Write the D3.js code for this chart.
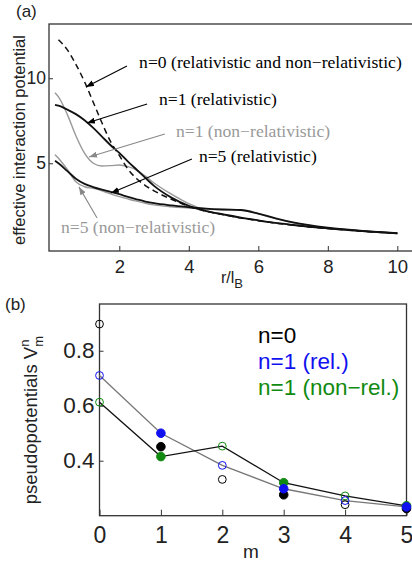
<!DOCTYPE html>
<html>
<head>
<meta charset="utf-8">
<script src="https://d3js.org/d3.v7.min.js"></script>
<style>
    body { margin: 0; background: #fff; }
    svg text { font-family: "Liberation Sans", Arial, sans-serif; }
    svg text.serif { font-family: "Liberation Serif", "Times New Roman", serif; }
</style>
</head>
<body>
<script>
// ---- panel (a): effective interaction potential vs r/l_B ----
var rGrid = [0.15, 0.25, 0.5, 0.75, 1, 1.25, 1.5, 1.75, 2, 2.25, 2.5, 2.75, 3, 3.5, 4, 4.5, 5, 5.5, 6, 6.5, 7, 8, 9, 10];
var n0All = [null, 12.26, 11.68, 10.82, 9.79, 8.59, 7.38, 6.27, 5.46, 4.65, 4.09, 3.69, 3.38, 2.88, 2.47, 2.17, 1.97, 1.78, 1.62, 1.48, 1.36, 1.16, 1.0, 0.88];
var n1Rel = [8.44, 8.39, 8.16, 7.89, 7.53, 7.08, 6.57, 6.06, 5.61, 5.10, 4.62, 4.14, 3.67, 2.98, 2.49, 2.19, 1.99, 1.80, 1.64, 1.49, 1.37, 1.17, 1.01, 0.88];
var n1NonRel = [9.15, 8.90, 7.89, 6.62, 5.59, 5.0, 4.84, 4.86, 4.9, 4.8, 4.6, 4.24, 3.84, 3.18, 2.62, 2.22, 1.97, 1.79, 1.63, 1.48, 1.36, 1.16, 1.0, 0.87];
var n5Rel = [5.15, 5.0, 4.55, 4.09, 3.79, 3.60, 3.45, 3.32, 3.18, 3.02, 2.88, 2.75, 2.65, 2.52, 2.42, 2.33, 2.28, 2.25, 2.04, 1.76, 1.52, 1.21, 1.02, 0.89];
var n5NonRel = [5.51, 5.3, 4.65, 3.91, 3.62, 3.52, 3.38, 3.20, 3.04, 2.90, 2.77, 2.65, 2.55, 2.44, 2.37, 2.30, 2.26, 2.23, 2.02, 1.74, 1.50, 1.19, 1.0, 0.87];
var xTicksA = [2, 4, 6, 8, 10];
var yTicksA = [5, 10];

// annotation labels: text, text anchor point, arrow start, arrow tip (data units)
var notesA = [
    {text: "n=0 (relativistic and non\u2212relativistic)", tx: 2.57, ty: 10.6, x1: 2.22, y1: 10.72, x2: 1.04, y2: 9.49, gray: false},
    {text: "n=1 (relativistic)", tx: 3.14, ty: 8.43, x1: 2.8, y1: 8.49, x2: 1.07, y2: 7.37, gray: false},
    {text: "n=1 (non\u2212relativistic)", tx: 3.63, ty: 6.55, x1: 3.31, y1: 6.72, x2: 1.13, y2: 5.37, gray: true},
    {text: "n=5 (relativistic)", tx: 4.29, ty: 5.08, x1: 4.09, y1: 5.25, x2: 1.76, y2: 3.25, gray: false},
    {text: "n=5 (non\u2212relativistic)", tx: 0.32, ty: 0.9, x1: 1.36, y1: 1.78, x2: 0.84, y2: 3.61, gray: true}
];

// ---- panel (b): pseudopotentials ----
var mVals = [0, 1, 2, 3, 4, 5];
var vN0 = [0.897, 0.451, 0.332, 0.276, 0.240, 0.226];
var vN1Rel = [0.71, 0.50, 0.383, 0.298, 0.255, 0.232];
var vN1NonRel = [0.613, 0.415, 0.453, 0.32, 0.272, 0.236];
var yTicksB = [0.4, 0.6, 0.8];
var legendB = ["n=0", "n=1 (rel.)", "n=1 (non\u2212rel.)"];

var blue = "#1010f0", green = "#108a10";

var width = 412, height = 565;
var svg = d3.select("body").append("svg")
    .attr("width", width)
    .attr("height", height);

var defs = svg.append("defs");
["#000", "#888"].forEach(function(c, i) {
    defs.append("marker")
        .attr("id", "arr" + i)
        .attr("markerUnits", "userSpaceOnUse")
        .attr("markerWidth", 9).attr("markerHeight", 7)
        .attr("refX", 8).attr("refY", 3)
        .attr("orient", "auto")
        .append("path")
        .attr("d", "M0,0 L8,3 L0,6 Z")
        .attr("fill", c);
});

// ===== panel (a) =====
var xA = d3.scaleLinear().domain([0, 10.5]).range([49.8, 414.7]);
var yA = d3.scaleLinear().domain([-0.16, 13.19]).range([251, 24]);

var gA = svg.append("g");

gA.append("rect")
    .attr("x", xA(0) - 0.8).attr("y", yA(13.19))
    .attr("width", xA(10.5) - xA(0) + 5).attr("height", yA(-0.16) - yA(13.19))
    .attr("fill", "none").attr("stroke", "#333").attr("stroke-width", 1.3);

gA.append("g")
    .attr("transform", "translate(0," + yA(-0.16) + ")")
    .call(d3.axisBottom(xA).tickValues(xTicksA).tickSize(-5).tickPadding(9).tickFormat(d3.format("d")))
    .call(function(g) { g.select(".domain").remove(); })
    .call(function(g) {
        g.selectAll("line").attr("stroke", "#333");
        g.selectAll("text").attr("font-size", 18.5).attr("fill", "#222");
    });

gA.append("g")
    .attr("transform", "translate(" + (xA(0) - 0.8) + ",0)")
    .call(d3.axisLeft(yA).tickValues(yTicksA).tickSize(-4).tickPadding(3).tickFormat(d3.format("d")))
    .call(function(g) { g.select(".domain").remove(); })
    .call(function(g) {
        g.selectAll("line").attr("stroke", "#333");
        g.selectAll("text").attr("font-size", 17.5).attr("fill", "#222");
    });

var lineA = d3.line()
    .defined(function(d) { return d[1] !== null; })
    .x(function(d) { return xA(d[0]); })
    .y(function(d) { return yA(d[1]); })
    .curve(d3.curveMonotoneX);

function pairs(vals) { return rGrid.map(function(r, i) { return [r, vals[i]]; }); }

var curvesA = [
    {v: n1NonRel, color: "#999", w: 1.4, dash: null},
    {v: n5NonRel, color: "#999", w: 1.4, dash: null},
    {v: n0All, color: "#111", w: 1.5, dash: "6,4"},
    {v: n1Rel, color: "#111", w: 1.8, dash: null},
    {v: n5Rel, color: "#111", w: 1.8, dash: null}
];

gA.selectAll("path.curve")
    .data(curvesA)
    .enter()
    .append("path")
    .attr("class", "curve")
    .attr("fill", "none")
    .attr("stroke", function(d) { return d.color; })
    .attr("stroke-width", function(d) { return d.w; })
    .attr("stroke-dasharray", function(d) { return d.dash; })
    .attr("d", function(d) { return lineA(pairs(d.v)); });

gA.selectAll("line.note")
    .data(notesA)
    .enter()
    .append("line")
    .attr("class", "note")
    .attr("x1", function(d) { return xA(d.x1); })
    .attr("y1", function(d) { return yA(d.y1); })
    .attr("x2", function(d) { return xA(d.x2); })
    .attr("y2", function(d) { return yA(d.y2); })
    .attr("stroke", function(d) { return d.gray ? "#888" : "#000"; })
    .attr("stroke-width", 1.1)
    .attr("marker-end", function(d) { return d.gray ? "url(#arr1)" : "url(#arr0)"; });

gA.selectAll("text.note")
    .data(notesA)
    .enter()
    .append("text")
    .attr("class", "note serif")
    .attr("x", function(d) { return xA(d.tx); })
    .attr("y", function(d) { return yA(d.ty); })
    .attr("font-size", 17.6)
    .attr("fill", function(d) { return d.gray ? "#999" : "#000"; })
    .text(function(d) { return d.text; });

svg.append("text")
    .attr("transform", "translate(24.5,140) rotate(-90)")
    .attr("text-anchor", "middle")
    .attr("font-size", 16.6)
    .attr("fill", "#222")
    .text("effective interaction potential");

var xLabA = svg.append("text")
    .attr("x", 232).attr("y", 283)
    .attr("text-anchor", "middle")
    .attr("font-size", 16)
    .attr("fill", "#222");
xLabA.append("tspan").text("r/l");
xLabA.append("tspan").attr("dy", 5).attr("font-size", 13).text("B");

svg.append("text").attr("x", 16).attr("y", 17).attr("font-size", 17).attr("fill", "#222").text("(a)");
svg.append("text").attr("x", 5).attr("y", 310).attr("font-size", 17).attr("fill", "#222").text("(b)");

// ===== panel (b) =====
var xB = d3.scaleLinear().domain([0, 5]).range([99.5, 406.5]);
var yB = d3.scaleLinear().domain([0.2, 0.97]).range([515.7, 304]);

var gB = svg.append("g");

gB.append("rect")
    .attr("x", xB(0)).attr("y", yB(0.97))
    .attr("width", xB(5) - xB(0)).attr("height", yB(0.2) - yB(0.97))
    .attr("fill", "none").attr("stroke", "#333").attr("stroke-width", 1.3);

gB.append("g")
    .attr("transform", "translate(0," + yB(0.2) + ")")
    .call(d3.axisBottom(xB).tickValues(mVals).tickSize(-6).tickPadding(11).tickFormat(d3.format("d")))
    .call(function(g) { g.select(".domain").remove(); })
    .call(function(g) {
        g.selectAll("line").attr("stroke", "#333");
        g.selectAll("text").attr("font-size", 23).attr("fill", "#222");
    });

gB.append("g")
    .attr("transform", "translate(" + xB(0) + ",0)")
    .call(d3.axisLeft(yB).tickValues(yTicksB).tickSize(-4).tickPadding(5).tickFormat(d3.format(".1f")))
    .call(function(g) { g.select(".domain").remove(); })
    .call(function(g) {
        g.selectAll("line").attr("stroke", "#333");
        g.selectAll("text").attr("font-size", 22.5).attr("fill", "#222");
    });

var lineB = d3.line()
    .x(function(d, i) { return xB(mVals[i]); })
    .y(function(d) { return yB(d); });

gB.append("path").attr("fill", "none").attr("stroke", "#777").attr("stroke-width", 1.3).attr("d", lineB(vN1Rel));
gB.append("path").attr("fill", "none").attr("stroke", "#111").attr("stroke-width", 1.3).attr("d", lineB(vN1NonRel));

// odd m: filled dots, even m: open circles
var seriesB = [
    {v: vN0, color: "#000"},
    {v: vN1NonRel, color: green},
    {v: vN1Rel, color: blue}
];
seriesB.forEach(function(s) {
    gB.selectAll(null)
        .data(s.v)
        .enter()
        .append("circle")
        .attr("cx", function(d, i) { return xB(mVals[i]); })
        .attr("cy", function(d) { return yB(d); })
        .attr("r", function(d, i) { return mVals[i] % 2 ? 4.3 : 3.9; })
        .attr("fill", function(d, i) { return mVals[i] % 2 ? s.color : "none"; })
        .attr("stroke", s.color)
        .attr("stroke-width", 1);
});

gB.selectAll("text.leg")
    .data(legendB)
    .enter()
    .append("text")
    .attr("class", "leg")
    .attr("x", 258)
    .attr("y", function(d, i) { return 343 + i * 25.8; })
    .attr("font-size", 22.5)
    .attr("fill", function(d, i) { return ["#000", blue, green][i]; })
    .text(function(d) { return d; });

var yLabB = svg.append("text")
    .attr("transform", "translate(37,420) rotate(-90)")
    .attr("text-anchor", "middle")
    .attr("font-size", 18.5)
    .attr("fill", "#222");
yLabB.append("tspan").text("pseudopotentials  V");
yLabB.append("tspan").attr("dy", -8).attr("font-size", 13).text("n");
yLabB.append("tspan").attr("dx", -7).attr("dy", 14).attr("font-size", 13).text("m");

svg.append("text")
    .attr("x", 251).attr("y", 558)
    .attr("text-anchor", "middle")
    .attr("font-size", 19)
    .attr("fill", "#222")
    .text("m");
</script>
</body>
</html>
